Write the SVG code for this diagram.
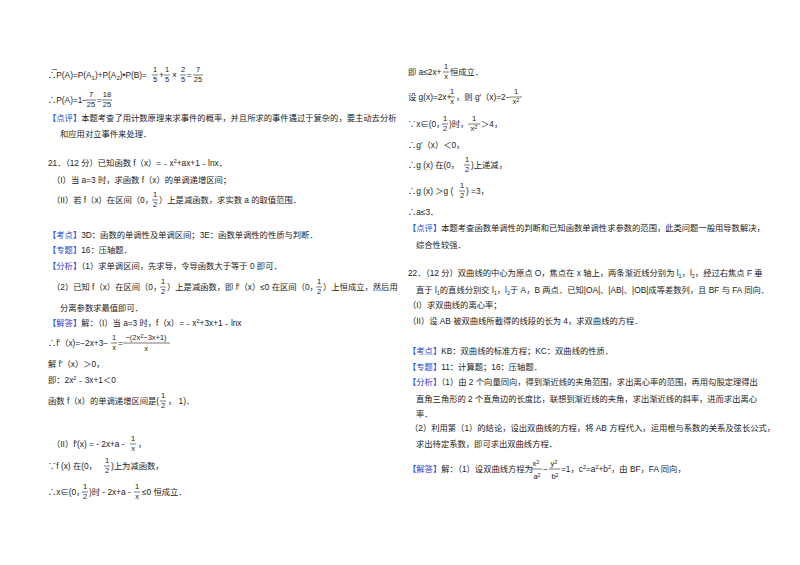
<svg xmlns="http://www.w3.org/2000/svg" width="800" height="565" viewBox="0 0 800 565">
<style>
text{font-family:"Liberation Sans","Noto Sans CJK SC",sans-serif;font-size:8.3px;fill:#222}
.b{fill:#1f3fd8}
.f{font-size:7.5px;text-anchor:middle}
.l{stroke:#222;stroke-width:0.6}
</style>
<rect width="800" height="565" fill="#fff"/>
<!-- left column -->
<text x="48" y="78">∴P(A)=P(A<tspan font-size="6" dy="2">1</tspan><tspan dy="-2">)+P(A</tspan><tspan font-size="6" dy="2">2</tspan><tspan dy="-2">)•P(B)=</tspan></text>
<line class="l" x1="52" y1="69.5" x2="57" y2="69.5"/>
<text class="f" x="155" y="72">1</text><line class="l" x1="152" y1="75" x2="158" y2="75"/><text class="f" x="155" y="82">5</text>
<text x="159" y="78">+</text>
<text class="f" x="167" y="72">1</text><line class="l" x1="164" y1="75" x2="170" y2="75"/><text class="f" x="167" y="82">5</text>
<text x="172" y="78">×</text>
<text class="f" x="183" y="72">2</text><line class="l" x1="180" y1="75" x2="186" y2="75"/><text class="f" x="183" y="82">5</text>
<text x="187" y="78">=</text>
<text class="f" x="198" y="72">7</text><line class="l" x1="193" y1="75" x2="203" y2="75"/><text class="f" x="198" y="82">25</text>

<text x="48" y="103">∴P(A)=1−</text>
<text class="f" x="91" y="97">7</text><line class="l" x1="86" y1="100" x2="96" y2="100"/><text class="f" x="91" y="107">25</text>
<text x="97" y="103">=</text>
<text class="f" x="107" y="97">18</text><line class="l" x1="102" y1="100" x2="112" y2="100"/><text class="f" x="107" y="107">25</text>

<text x="48" y="121"><tspan class="b">【点评】</tspan>本题考查了用计数原理来求事件的概率，并且所求的事件遇过于复杂的，要主动去分析</text>
<text x="60" y="137">和应用对立事件来处理．</text>

<text x="48" y="166">21．（12 分）已知函数 f（x）=﹣x<tspan font-size="5.5" dy="-3">2</tspan><tspan dy="3">+ax+1﹣lnx．</tspan></text>
<text x="52" y="183">（I）当 a=3 时，求函数 f（x）的单调递增区间；</text>
<text x="52" y="203">（II）若 f（x）在区间（0，</text>
<text class="f" x="155" y="197">1</text><line class="l" x1="152" y1="200" x2="158" y2="200"/><text class="f" x="155" y="207">2</text>
<text x="159" y="203">）上是减函数，求实数 a 的取值范围．</text>

<text x="48" y="238"><tspan class="b">【考点】</tspan>3D：函数的单调性及单调区间；3E：函数单调性的性质与判断．</text>
<text x="48" y="253"><tspan class="b">【专题】</tspan>16：压轴题．</text>
<text x="48" y="269"><tspan class="b">【分析】</tspan>（1）求单调区间，先求导，令导函数大于等于 0 即可．</text>
<text x="52" y="290">（2）已知 f（x）在区间（0，</text>
<text class="f" x="163" y="284">1</text><line class="l" x1="160" y1="287" x2="166" y2="287"/><text class="f" x="163" y="294">2</text>
<text x="167" y="290">）上是减函数，即 f′（x）≤0 在区间（0，</text>
<text class="f" x="319" y="284">1</text><line class="l" x1="316" y1="287" x2="322" y2="287"/><text class="f" x="319" y="294">2</text>
<text x="323" y="290">）上恒成立，然后用</text>
<text x="60" y="311">分离参数求最值即可．</text>
<text x="48" y="326"><tspan class="b">【解答】</tspan>解：（I）当 a=3 时，f（x）=﹣x<tspan font-size="5.5" dy="-3">2</tspan><tspan dy="3">+3x+1﹣lnx</tspan></text>
<text x="48" y="346">∴f′（x)=−2x+3−</text>
<text class="f" x="114" y="340">1</text><line class="l" x1="111" y1="343" x2="117" y2="343"/><text class="f" x="114" y="350">x</text>
<text x="118" y="346">=</text>
<text class="f" x="146" y="340">−(2x<tspan font-size="5.5" dy="-2">2</tspan><tspan dy="2">−3x+1)</tspan></text><line class="l" x1="123" y1="343" x2="170" y2="343"/><text class="f" x="146" y="351">x</text>
<text x="48" y="367">解 f′（x）＞0，</text>
<text x="48" y="383">即：2x<tspan font-size="5.5" dy="-3">2</tspan><tspan dy="3">﹣3x+1＜0</tspan></text>
<text x="48" y="404">函数 f（x）的单调递增区间是(</text>
<text class="f" x="163" y="398">1</text><line class="l" x1="160" y1="401" x2="166" y2="401"/><text class="f" x="163" y="408">2</text>
<text x="168" y="404">，  1)．</text>
<text x="52" y="447">（II）f′(x) = - 2x+a - </text>
<text class="f" x="133" y="441">1</text><line class="l" x1="130" y1="444" x2="136" y2="444"/><text class="f" x="133" y="451">x</text>
<text x="138" y="447">，</text>
<text x="48" y="469">∵f (x) 在(0，</text>
<text class="f" x="107" y="463">1</text><line class="l" x1="104" y1="466" x2="110" y2="466"/><text class="f" x="107" y="473">2</text>
<text x="111" y="469">)上为减函数，</text>
<text x="48" y="495">∴x∈(0，</text>
<text class="f" x="85" y="489">1</text><line class="l" x1="82" y1="492" x2="88" y2="492"/><text class="f" x="85" y="499">2</text>
<text x="89" y="495">)时 - 2x+a - </text>
<text class="f" x="137" y="489">1</text><line class="l" x1="134" y1="492" x2="140" y2="492"/><text class="f" x="137" y="499">x</text>
<text x="142" y="495">≤0 恒成立．</text>

<!-- right column -->
<text x="408" y="75">即 a≤2x+</text>
<text class="f" x="446" y="69">1</text><line class="l" x1="443" y1="72" x2="449" y2="72"/><text class="f" x="446" y="79">x</text>
<text x="450" y="75">恒成立．</text>
<text x="408" y="100">设 g(x)=2x+</text>
<text class="f" x="452" y="94">1</text><line class="l" x1="449" y1="97" x2="455" y2="97"/><text class="f" x="452" y="104">x</text>
<text x="456" y="100">，则 g′（x)=2−</text>
<text class="f" x="516" y="94">1</text><line class="l" x1="510" y1="97" x2="522" y2="97"/><text class="f" x="516" y="104">x<tspan font-size="5.5" dy="-2">2</tspan></text>
<text x="408" y="127">∵x∈(0，</text>
<text class="f" x="445" y="121">1</text><line class="l" x1="442" y1="124" x2="448" y2="124"/><text class="f" x="445" y="131">2</text>
<text x="449" y="127">)时，</text>
<text class="f" x="474" y="121">1</text><line class="l" x1="468" y1="124" x2="480" y2="124"/><text class="f" x="474" y="131">x<tspan font-size="5.5" dy="-2">2</tspan></text>
<text x="481" y="127">＞4，</text>
<text x="408" y="148">∴g′（x）＜0，</text>
<text x="408" y="168">∴g (x) 在(0，</text>
<text class="f" x="467" y="162">1</text><line class="l" x1="464" y1="165" x2="470" y2="165"/><text class="f" x="467" y="172">2</text>
<text x="471" y="168">)上递减，</text>
<text x="408" y="194">∴g (x) ＞g (</text>
<text class="f" x="462" y="188">1</text><line class="l" x1="459" y1="191" x2="465" y2="191"/><text class="f" x="462" y="198">2</text>
<text x="466" y="194">) =3，</text>
<text x="408" y="215">∴a≤3．</text>
<text x="408" y="231"><tspan class="b">【点评】</tspan>本题考查函数单调性的判断和已知函数单调性求参数的范围，此类问题一般用导数解决，</text>
<text x="416" y="248">综合性较强．</text>

<text x="408" y="276">22．（12 分）双曲线的中心为原点 O，焦点在 x 轴上，两条渐近线分别为 l<tspan font-size="5.5" dy="2">1</tspan><tspan dy="-2">，l</tspan><tspan font-size="5.5" dy="2">2</tspan><tspan dy="-2">，经过右焦点 F 垂</tspan></text>
<text x="416" y="293">直于 l<tspan font-size="5.5" dy="2">1</tspan><tspan dy="-2">的直线分别交 l</tspan><tspan font-size="5.5" dy="2">1</tspan><tspan dy="-2">，l</tspan><tspan font-size="5.5" dy="2">2</tspan><tspan dy="-2">于 A，B 两点．已知|OA|、|AB|、|OB|成等差数列，且 BF 与 FA 同向．</tspan></text>
<text x="408" y="308">（I）求双曲线的离心率；</text>
<text x="408" y="324">（II）设 AB 被双曲线所截得的线段的长为 4，求双曲线的方程．</text>
<text x="408" y="354"><tspan class="b">【考点】</tspan>KB：双曲线的标准方程；KC：双曲线的性质．</text>
<text x="408" y="370"><tspan class="b">【专题】</tspan>11：计算题；16：压轴题．</text>
<text x="408" y="385"><tspan class="b">【分析】</tspan>（1）由 2 个向量同向，得到渐近线的夹角范围，求出离心率的范围，再用勾股定理得出</text>
<text x="416" y="402">直角三角形的 2 个直角边的长度比，联想到渐近线的夹角，求出渐近线的斜率，进而求出离心</text>
<text x="416" y="417">率．</text>
<text x="410" y="431">（2）利用第（1）的结论，设出双曲线的方程，将 AB 方程代入，运用根与系数的关系及弦长公式，</text>
<text x="416" y="447">求出待定系数，即可求出双曲线方程．</text>
<text x="408" y="472"><tspan class="b">【解答】</tspan>解：（1）设双曲线方程为</text>
<text class="f" x="536" y="466">x<tspan font-size="5.5" dy="-2">2</tspan></text><line class="l" x1="531" y1="469" x2="542" y2="469"/><text class="f" x="537" y="479">a<tspan font-size="5.5" dy="-2">2</tspan></text>
<text x="543" y="472">−</text>
<text class="f" x="554" y="466">y<tspan font-size="5.5" dy="-2">2</tspan></text><line class="l" x1="549" y1="469" x2="560" y2="469"/><text class="f" x="555" y="479">b<tspan font-size="5.5" dy="-2">2</tspan></text>
<text x="561" y="472">=1，c<tspan font-size="5.5" dy="-3">2</tspan><tspan dy="3">=a</tspan><tspan font-size="5.5" dy="-3">2</tspan><tspan dy="3">+b</tspan><tspan font-size="5.5" dy="-3">2</tspan><tspan dy="3">，由 BF，FA 同向，</tspan></text>
</svg>
